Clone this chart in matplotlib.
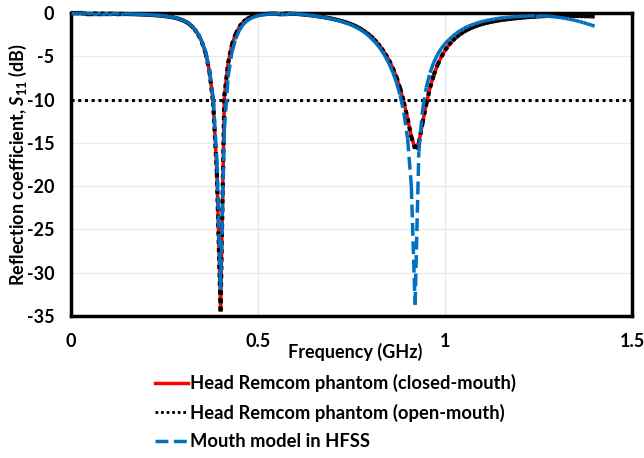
import numpy as np
import matplotlib.pyplot as plt
from matplotlib.collections import LineCollection
from matplotlib.lines import Line2D

plt.rcParams['font.family'] = ['Lato', 'DejaVu Sans']
plt.rcParams['font.weight'] = 'bold'
plt.rcParams['axes.labelweight'] = 'bold'
plt.rcParams['axes.unicode_minus'] = False
plt.rcParams['mathtext.fontset'] = 'custom'
plt.rcParams['mathtext.it'] = 'Lato:italic:bold'
plt.rcParams['mathtext.rm'] = 'Lato:bold'

# frequency sweep, 10 MHz step
freq_ghz = np.round(np.arange(141) * 0.01, 2)

# S11 (dB) of the head phantom, closed mouth
s11_closed = [
    -0.05, -0.05, -0.05, -0.05, -0.06, -0.06, -0.06, -0.07, -0.07, -0.08,
    -0.08, -0.09, -0.10, -0.10, -0.11, -0.12, -0.13, -0.14, -0.16, -0.17,
    -0.19, -0.21, -0.24, -0.27, -0.31, -0.35, -0.41, -0.48, -0.57, -0.70,
    -0.86, -1.08, -1.40, -1.85, -2.48, -3.35, -4.65, -6.70, -10.2, -18.3,
    -34.3, -9.7, -5.8, -3.7, -2.45, -1.60, -1.05, -0.70, -0.48, -0.33,
    -0.23, -0.16, -0.12, -0.09, -0.07, -0.06, -0.06, -0.06, -0.07, -0.08,
    -0.10, -0.13, -0.17, -0.21, -0.26, -0.31, -0.37, -0.44, -0.51, -0.59,
    -0.68, -0.78, -0.89, -1.01, -1.15, -1.31, -1.50, -1.72, -1.98, -2.28,
    -2.62, -3.02, -3.50, -4.05, -4.69, -5.42, -6.30, -7.38, -8.69, -10.3,
    -12.2, -14.3, -15.6, -15.0, -12.7, -10.5, -8.63, -7.16, -5.99, -5.07,
    -4.32, -3.71, -3.21, -2.80, -2.46, -2.17, -1.93, -1.72, -1.55, -1.39,
    -1.26, -1.15, -1.05, -0.96, -0.88, -0.81, -0.75, -0.70, -0.65, -0.60,
    -0.56, -0.52, -0.48, -0.45, -0.42, -0.39, -0.37, -0.35, -0.33, -0.32,
    -0.31, -0.31, -0.31, -0.32, -0.33, -0.34, -0.35, -0.36, -0.37, -0.38,
    -0.40,
]

# S11 (dB) of the head phantom, open mouth
s11_open = [
    -0.05, -0.05, -0.05, -0.05, -0.06, -0.06, -0.06, -0.07, -0.07, -0.08,
    -0.08, -0.09, -0.10, -0.10, -0.11, -0.12, -0.13, -0.14, -0.16, -0.17,
    -0.19, -0.21, -0.24, -0.27, -0.31, -0.35, -0.41, -0.48, -0.57, -0.70,
    -0.86, -1.08, -1.40, -1.85, -2.48, -3.35, -4.65, -6.70, -10.3, -18.5,
    -34.5, -9.6, -5.8, -3.7, -2.45, -1.60, -1.05, -0.70, -0.48, -0.33,
    -0.23, -0.16, -0.12, -0.09, -0.07, -0.06, -0.06, -0.06, -0.07, -0.08,
    -0.10, -0.13, -0.17, -0.21, -0.26, -0.31, -0.37, -0.44, -0.51, -0.59,
    -0.68, -0.78, -0.89, -1.01, -1.15, -1.31, -1.50, -1.72, -1.98, -2.28,
    -2.62, -3.02, -3.50, -4.05, -4.69, -5.42, -6.30, -7.38, -8.69, -10.3,
    -12.2, -14.3, -15.7, -15.0, -12.7, -10.5, -8.63, -7.16, -5.99, -5.07,
    -4.32, -3.71, -3.21, -2.80, -2.46, -2.17, -1.93, -1.72, -1.55, -1.39,
    -1.26, -1.15, -1.05, -0.96, -0.88, -0.81, -0.75, -0.70, -0.65, -0.60,
    -0.56, -0.52, -0.48, -0.45, -0.42, -0.39, -0.37, -0.35, -0.33, -0.32,
    -0.31, -0.31, -0.31, -0.32, -0.33, -0.34, -0.35, -0.36, -0.37, -0.38,
    -0.40,
]

# S11 (dB) of the mouth model simulated in HFSS
s11_hfss = [
    -0.04, -0.04, -0.04, -0.05, -0.05, -0.05, -0.06, -0.06, -0.07, -0.07,
    -0.08, -0.08, -0.09, -0.10, -0.10, -0.11, -0.12, -0.13, -0.15, -0.16,
    -0.18, -0.20, -0.23, -0.26, -0.30, -0.34, -0.40, -0.47, -0.56, -0.68,
    -0.84, -1.05, -1.36, -1.80, -2.40, -3.25, -4.50, -6.45, -9.80, -17.0,
    -32.0, -13.5, -7.4, -4.6, -3.0, -2.0, -1.35, -0.92, -0.64, -0.45,
    -0.32, -0.23, -0.17, -0.13, -0.10, -0.08, -0.07, -0.07, -0.07, -0.08,
    -0.10, -0.13, -0.17, -0.21, -0.26, -0.32, -0.38, -0.45, -0.53, -0.62,
    -0.72, -0.83, -0.95, -1.08, -1.23, -1.40, -1.60, -1.83, -2.10, -2.42,
    -2.80, -3.22, -3.72, -4.30, -5.00, -5.80, -6.80, -8.00, -9.50, -11.5,
    -14.5, -20.0, -33.7, -16.0, -11.2, -8.6, -6.9, -5.7, -4.8, -4.1,
    -3.55, -3.10, -2.70, -2.35, -2.05, -1.80, -1.58, -1.40, -1.24, -1.10,
    -0.98, -0.88, -0.79, -0.71, -0.64, -0.58, -0.53, -0.49, -0.45, -0.42,
    -0.39, -0.37, -0.35, -0.34, -0.33, -0.33, -0.34, -0.36, -0.39, -0.43,
    -0.48, -0.54, -0.61, -0.69, -0.78, -0.88, -0.99, -1.11, -1.24, -1.38,
    -1.52,
]

threshold_db = -10

labels = [
    'Head Remcom phantom (closed-mouth)',
    'Head Remcom phantom (open-mouth)',
    'Mouth model in HFSS',
]
red = '#ff0000'
blue = '#0070c0'
dotted = (0, (1, 1))


def add_curve(ax, x, y, color, lw, ls, z):
    # one path per segment, so the dash pattern restarts at every sample
    pts = np.column_stack([x, y])
    segs = np.stack([pts[:-1], pts[1:]], axis=1)
    lc = LineCollection(segs, colors=color, linewidths=lw, linestyles=ls,
                        zorder=z, clip_on=False)
    ax.add_collection(lc)


fig = plt.figure(figsize=(6.44, 4.58), dpi=100)
ax = fig.add_axes([71 / 644, 1 - 316 / 458, 561 / 644, 303 / 458])

add_curve(ax, freq_ghz, s11_closed, red, 2.5, 'solid', 4)
add_curve(ax, freq_ghz, s11_open, 'black', 3.0, dotted, 5)
add_curve(ax, freq_ghz, s11_hfss, blue, 2.5, '--', 6)
ax.axhline(threshold_db, color='black', lw=2.2, linestyle=(0, (1, 1.2)), zorder=3)

ax.set_xlim(0, 1.5)
ax.set_ylim(-35, 0)
ax.set_xticks([0, 0.5, 1, 1.5])
ax.set_xticklabels(['0', '0.5', '1', '1.5'])
ax.set_yticks(range(-35, 1, 5))
ax.grid(True, color='#e8e8e8', lw=0.9)
ax.set_axisbelow(True)
for sp in ax.spines.values():
    sp.set_linewidth(2.5)
ax.tick_params(length=0, labelsize=13)
ax.tick_params(axis='x', pad=12)
ax.tick_params(axis='y', pad=12)

ax.set_xlabel('Frequency (GHz)', fontsize=13, va='top')
ax.xaxis.set_label_coords(0.506, -0.088)
ax.set_ylabel('Reflection coefficient, $\\mathit{S}_{\\mathit{11}}$ (dB)', fontsize=13)
ax.yaxis.set_label_coords(-0.075, 0.5)

handles = [
    Line2D([], [], color=red, lw=2.5),
    Line2D([], [], color='black', lw=2, linestyle=dotted),
    Line2D([], [], color=blue, lw=2.5, linestyle='--'),
]
fig.legend(handles, labels, loc='upper left', bbox_to_anchor=(155 / 644, 1 - 374 / 458),
           frameon=False, fontsize=13.2, handlelength=1.8, handletextpad=0.1,
           labelspacing=0.62, borderpad=0, borderaxespad=0)

fig.savefig('out.png', dpi=100)
